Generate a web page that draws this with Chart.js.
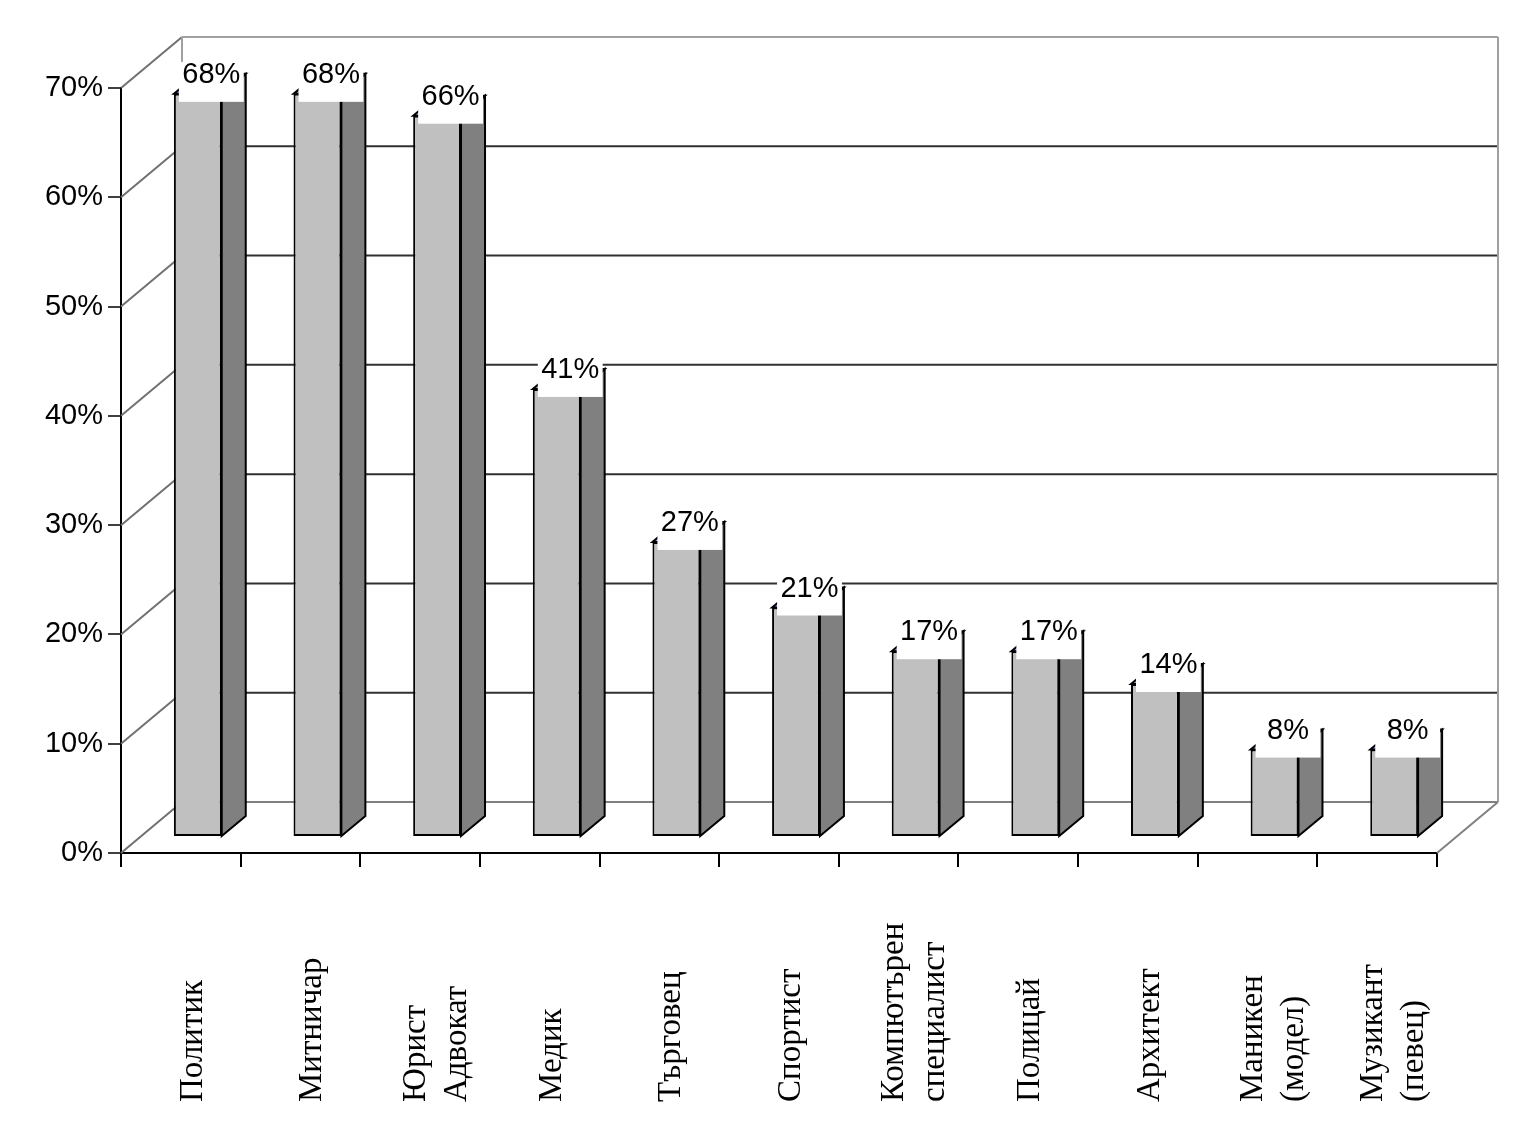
<!DOCTYPE html>
<html>
<head>
<meta charset="utf-8">
<script src="https://cdn.jsdelivr.net/npm/chart.js@4.4.1/dist/chart.umd.min.js"></script>
<style>
html, body { margin: 0; padding: 0; background: #fff; }
canvas { display: block; }
</style>
</head>
<body>
<canvas id="graph" width="1535" height="1143"></canvas>
<script>
const professions = [
    'Политик', 'Митничар', ['Юрист', 'Адвокат'], 'Медик', 'Търговец', 'Спортист',
    ['Компютърен', 'специалист'], 'Полицай', 'Архитект', ['Маникен', '(модел)'], ['Музикант', '(певец)']
];
const shares = [68, 68, 66, 41, 27, 21, 17, 17, 14, 8, 8];
const yMin = 0, yMax = 70, yStep = 10;

// depth of the box and of the bars (3d look)
const WALL_DX = 61, WALL_DY = -51;
const BAR_DX = 17, BAR_DY = -16;
const SIDE_DX = 24, SIDE_DY = -20;

const threeD = {
    id: 'threeD',
    beforeDatasetsDraw(chart) {
        const ctx = chart.ctx;
        const y = chart.scales.y;
        const l = chart.chartArea.left, r = chart.chartArea.right;
        ctx.save();
        ctx.lineWidth = 2;
        for (let v = yMin; v <= yMax; v += yStep) {
            const py = y.getPixelForValue(v);
            ctx.strokeStyle = '#707070';
            ctx.beginPath();
            ctx.moveTo(l, py);
            ctx.lineTo(l + WALL_DX, py + WALL_DY);
            ctx.stroke();
            ctx.strokeStyle = v === yMax ? '#a0a0a0' : (v === yMin ? '#808080' : '#303030');
            ctx.beginPath();
            ctx.moveTo(l + WALL_DX, py + WALL_DY);
            ctx.lineTo(r + WALL_DX, py + WALL_DY);
            ctx.stroke();
        }
        const top = y.getPixelForValue(yMax), bot = y.getPixelForValue(yMin);
        ctx.strokeStyle = '#a0a0a0';
        ctx.beginPath();
        ctx.moveTo(l + WALL_DX, bot + WALL_DY);
        ctx.lineTo(l + WALL_DX, top + WALL_DY);
        ctx.moveTo(r + WALL_DX, bot + WALL_DY);
        ctx.lineTo(r + WALL_DX, top + WALL_DY);
        ctx.stroke();
        ctx.strokeStyle = '#808080';
        ctx.beginPath();
        ctx.moveTo(r, bot);
        ctx.lineTo(r + WALL_DX, bot + WALL_DY);
        ctx.stroke();
        ctx.restore();

        // bars sit in the middle of the depth
        ctx.save();
        ctx.translate(BAR_DX, BAR_DY);
    },
    afterDatasetsDraw(chart) {
        const ctx = chart.ctx;
        const bars = chart.getDatasetMeta(0).data;
        ctx.lineWidth = 2;
        ctx.strokeStyle = '#000';
        bars.forEach((el, i) => {
            const left = el.x - el.width / 2, right = el.x + el.width / 2;
            const top = el.y, base = el.base;
            // side
            ctx.fillStyle = '#808080';
            ctx.beginPath();
            ctx.moveTo(right, base);
            ctx.lineTo(right + SIDE_DX, base + SIDE_DY);
            ctx.lineTo(right + SIDE_DX, top + SIDE_DY);
            ctx.lineTo(right, top);
            ctx.closePath();
            ctx.fill();
            ctx.stroke();
            // top
            ctx.fillStyle = '#9494d8';
            ctx.beginPath();
            ctx.moveTo(left, top);
            ctx.lineTo(left + SIDE_DX, top + SIDE_DY);
            ctx.lineTo(right + SIDE_DX, top + SIDE_DY);
            ctx.lineTo(right, top);
            ctx.closePath();
            ctx.fill();
            ctx.stroke();
            // value label on white box
            const bx = left + 5, bw = right + SIDE_DX - 2 - bx;
            ctx.fillStyle = '#fff';
            ctx.fillRect(bx, top - 32, bw, 40);
            ctx.fillStyle = '#000';
            ctx.font = '29px "Liberation Sans", Arial, sans-serif';
            ctx.textAlign = 'center';
            ctx.textBaseline = 'middle';
            ctx.fillText(shares[i] + '%', bx + bw / 2, top - 19);
        });
        ctx.restore();
    },
    afterDraw(chart) {
        const ctx = chart.ctx;
        const x = chart.scales.x;
        ctx.save();
        ctx.fillStyle = '#000';
        ctx.font = '33px "Liberation Serif", "Times New Roman", serif';
        ctx.textAlign = 'left';
        ctx.textBaseline = 'alphabetic';
        professions.forEach((lab, i) => {
            const lines = Array.isArray(lab) ? lab : [lab];
            const cx = x.getPixelForValue(i) + (lines.length > 1 ? 14 : 10);
            ctx.save();
            ctx.translate(cx, 1102);
            ctx.rotate(-Math.PI / 2);
            lines.forEach((t, j) => {
                const off = (j - (lines.length - 1) / 2) * 41;
                ctx.fillText(t, 0, off + 11);
            });
            ctx.restore();
        });
        ctx.restore();
    }
};

new Chart(document.getElementById('graph').getContext('2d'), {
    type: 'bar',
    data: {
        labels: professions,
        datasets: [{
            data: shares,
            backgroundColor: '#c0c0c0',
            borderColor: '#000',
            borderWidth: 2,
            borderSkipped: false,
            categoryPercentage: 1,
            barPercentage: 0.40,
            clip: false
        }]
    },
    options: {
        responsive: false,
        animation: false,
        layout: { padding: { top: 88, right: 98, left: 0, bottom: 0 } },
        plugins: { legend: { display: false }, tooltip: { enabled: false } },
        scales: {
            x: {
                offset: true,
                grid: { display: true, drawOnChartArea: false, drawTicks: true, tickLength: 14, color: '#000', lineWidth: 2, offset: true },
                border: { display: true, color: '#000', width: 2 },
                ticks: { display: false },
                afterFit: s => { s.height = 290; }
            },
            y: {
                min: yMin,
                max: yMax,
                grid: { display: true, drawOnChartArea: false, drawTicks: true, tickLength: 13, color: '#404040', lineWidth: 2 },
                border: { display: true, color: '#000', width: 2 },
                ticks: {
                    stepSize: yStep,
                    padding: 5,
                    color: '#000',
                    font: { family: '"Liberation Sans", Arial, sans-serif', size: 29 },
                    callback: v => v + '%'
                },
                afterFit: s => { s.width = 121; }
            }
        }
    },
    plugins: [threeD]
});
</script>
</body>
</html>
